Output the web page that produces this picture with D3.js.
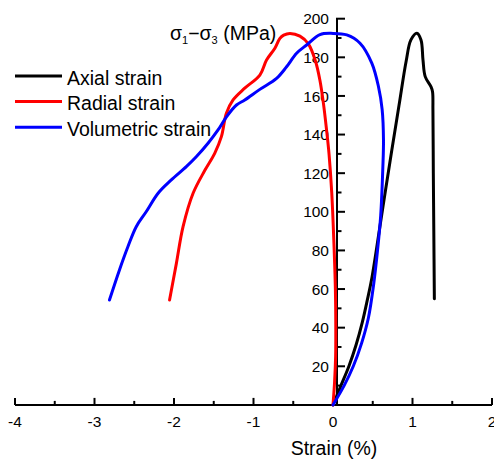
<!DOCTYPE html>
<html>
<head>
<meta charset="utf-8">
<script src="https://cdn.jsdelivr.net/npm/d3@7/dist/d3.min.js"></script>
<style>
  html, body { margin: 0; padding: 0; background: #fff; }
  svg { display: block; font-family: "Liberation Sans", Arial, sans-serif; }
</style>
</head>
<body>
<svg id="chart" width="494" height="461"></svg>
<script>
// ---- Data ----
const seriesNames = ["Axial strain", "Radial strain", "Volumetric strain"];
const seriesColors = ["#000000", "#ff0000", "#0000ff"];

const axialStrain = [0, 0.1, 0.2, 0.29, 0.37, 0.43, 0.49, 0.585, 0.66, 0.74, 0.83, 0.92, 0.98, 1.055, 1.107, 1.132, 1.16, 1.232, 1.252, 1.257, 1.262, 1.268, 1.275];
const axialStress = [0, 10, 20, 31, 43, 54, 66, 91, 111, 132, 155, 178, 189, 192.5, 189, 178.6, 170, 164.8, 162.2, 152.7, 120, 90, 55];

const radialStrain = [0, 0.02, 0.033, 0.035, 0.03, 0.015, -0.016, -0.05, -0.08, -0.12, -0.164, -0.22, -0.31, -0.416, -0.542, -0.62, -0.668, -0.731, -0.836, -0.92, -1.11, -1.257, -1.341, -1.404, -1.488, -1.61, -1.76, -1.886, -1.97, -2.056];
const radialStress = [0, 12, 25, 40, 60, 80, 110, 130, 142, 156, 168, 178, 187, 191, 192.4, 191.5, 189.8, 184.7, 178.6, 170.8, 164, 157.9, 151, 138.9, 130.3, 121.6, 109.6, 92.3, 73.3, 54.3];

const volStrain = [0, 0.14, 0.255, 0.36, 0.445, 0.51, 0.56, 0.6, 0.627, 0.635, 0.618, 0.571, 0.488, 0.34, 0.173, 0.0, -0.164, -0.332, -0.458, -0.584, -0.71, -0.92, -1.11, -1.214, -1.34, -1.446, -1.572, -1.72, -1.845, -2.034, -2.2, -2.35, -2.475, -2.58, -2.686, -2.812];
const volStress = [0, 10, 20, 32, 45, 62, 80, 98, 123, 137, 153, 165, 177, 187.3, 191.6, 192.4, 191.8, 186.4, 182.1, 175.1, 169.1, 163.4, 157.9, 155.3, 149.2, 142.4, 135.5, 128.5, 123.4, 116.5, 109.6, 100, 92.3, 81.9, 69.9, 54.3];

const xTicks = [-4, -3, -2, -1, 0, 1, 2];
const yTicks = [20, 40, 60, 80, 100, 120, 140, 160, 180, 200];
const xLabel = "Strain (%)";

// ---- Layout ----
const svg = d3.select("#chart");
const x = d3.scaleLinear().domain([-4, 2]).range([15, 492]);
const y = d3.scaleLinear().domain([0, 200]).range([404.9, 18.7]);
const yAxisX = x(0) + 4;

// X axis
const xAxisG = svg.append("g").attr("transform", `translate(0,${y(0)})`);
xAxisG.append("line").attr("x1", x(-4)).attr("x2", x(2)).attr("stroke", "#000").attr("stroke-width", 2);
const xMinor = d3.range(-3.5, 2, 1);
xAxisG.selectAll(".xmaj").data(xTicks).enter().append("line")
  .attr("x1", d => x(d)).attr("x2", d => x(d)).attr("y1", 0).attr("y2", -7)
  .attr("stroke", "#000").attr("stroke-width", 2);
xAxisG.selectAll(".xmin").data(xMinor).enter().append("line")
  .attr("x1", d => x(d)).attr("x2", d => x(d)).attr("y1", 0).attr("y2", -4)
  .attr("stroke", "#000").attr("stroke-width", 2);
xAxisG.selectAll(".xlab").data(xTicks).enter().append("text")
  .attr("x", d => x(d)).attr("y", 22).attr("text-anchor", "middle")
  .attr("font-size", "15.5px").attr("fill", "#000").text(d => d);
svg.append("text").attr("x", x(0) + 1).attr("y", 455).attr("text-anchor", "middle")
  .attr("font-size", "19.5px").attr("fill", "#000").text(xLabel);

// Y axis
const yAxisG = svg.append("g").attr("transform", `translate(${yAxisX},0)`);
yAxisG.append("line").attr("y1", y(0)).attr("y2", y(200)).attr("stroke", "#000").attr("stroke-width", 2);
const yMinor = d3.range(10, 200, 20);
yAxisG.selectAll(".ymaj").data(yTicks).enter().append("line")
  .attr("y1", d => y(d)).attr("y2", d => y(d)).attr("x1", -1).attr("x2", 8)
  .attr("stroke", "#000").attr("stroke-width", 2);
yAxisG.selectAll(".ymin").data(yMinor).enter().append("line")
  .attr("y1", d => y(d)).attr("y2", d => y(d)).attr("x1", 0).attr("x2", 4.5)
  .attr("stroke", "#000").attr("stroke-width", 2);
yAxisG.selectAll(".ylab").data(yTicks).enter().append("text")
  .attr("x", -8).attr("y", d => y(d)).attr("dy", "0.36em").attr("text-anchor", "end")
  .attr("font-size", "15.5px").attr("fill", "#000").text(d => d);

// Y label  σ1−σ3 (MPa)
const yl = svg.append("text").attr("x", 170).attr("y", 40).attr("font-size", "19.5px").attr("fill", "#000");
yl.append("tspan").text("σ");
yl.append("tspan").attr("font-size", "11px").attr("dy", 4).text("1");
yl.append("tspan").attr("dy", -4).text("−σ");
yl.append("tspan").attr("font-size", "11px").attr("dy", 4).text("3");
yl.append("tspan").attr("dy", -4).text(" (MPa)");

// Curves
const line = d3.line().x(d => x(d[0])).y(d => y(d[1])).curve(d3.curveCatmullRom.alpha(0.5));
const seriesData = [
  d3.zip(axialStrain, axialStress),
  d3.zip(radialStrain, radialStress),
  d3.zip(volStrain, volStress)
];
svg.selectAll(".curve").data(seriesData).enter().append("path")
  .attr("d", line).attr("fill", "none")
  .attr("stroke", (d, i) => seriesColors[i]).attr("stroke-width", 3)
  .attr("stroke-linejoin", "round").attr("stroke-linecap", "round");

// Legend
const lg = svg.append("g");
seriesNames.forEach((name, i) => {
  const ly = 76 + i * 25.6;
  lg.append("line").attr("x1", 15).attr("x2", 62).attr("y1", ly).attr("y2", ly)
    .attr("stroke", seriesColors[i]).attr("stroke-width", 3);
  lg.append("text").attr("x", 67).attr("y", ly + 8.5).attr("font-size", "19.5px").attr("fill", "#000").text(name);
});
</script>
</body>
</html>
